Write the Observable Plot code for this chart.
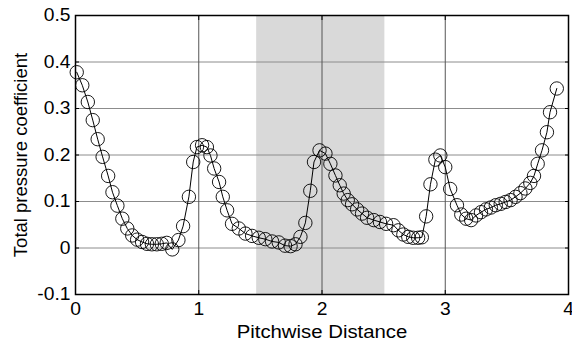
<!DOCTYPE html>
<html>
<head>
<meta charset="utf-8">
<script src="https://cdn.jsdelivr.net/npm/d3@7"></script>
<script src="https://cdn.jsdelivr.net/npm/@observablehq/plot@0.6"></script>
<style>
  html, body { margin: 0; padding: 0; background: #fff; }
  #chart svg { display: block; }
</style>
</head>
<body>
<div id="chart"></div>
<script>
// Pitchwise positions and total pressure coefficient values
const pitch = [0.01,0.055,0.10,0.14,0.18,0.22,0.265,0.30,0.34,0.38,0.42,0.46,0.50,0.54,0.58,0.62,0.66,0.70,0.74,0.785,0.835,0.873,0.92,0.955,0.985,1.027,1.066,1.095,1.125,1.165,1.195,1.23,1.27,1.325,1.379,1.433,1.487,1.54,1.595,1.649,1.70,1.745,1.785,1.825,1.865,1.905,1.935,1.98,2.028,2.068,2.109,2.144,2.176,2.209,2.244,2.285,2.325,2.366,2.42,2.47,2.52,2.58,2.62,2.66,2.70,2.74,2.78,2.81,2.845,2.88,2.92,2.96,3.0,3.04,3.095,3.13,3.17,3.21,3.25,3.29,3.33,3.37,3.41,3.45,3.49,3.53,3.57,3.61,3.65,3.69,3.72,3.75,3.785,3.825,3.85,3.905];
const cpt = [0.378,0.350,0.314,0.275,0.234,0.196,0.155,0.120,0.091,0.063,0.042,0.027,0.018,0.013,0.009,0.008,0.008,0.009,0.011,-0.003,0.017,0.047,0.110,0.185,0.217,0.221,0.217,0.199,0.171,0.142,0.110,0.081,0.052,0.042,0.031,0.026,0.022,0.019,0.014,0.012,0.005,0.004,0.008,0.024,0.054,0.123,0.185,0.210,0.203,0.181,0.156,0.135,0.117,0.103,0.094,0.083,0.074,0.065,0.060,0.056,0.052,0.049,0.038,0.029,0.024,0.022,0.022,0.023,0.068,0.137,0.190,0.199,0.174,0.127,0.092,0.072,0.063,0.060,0.070,0.077,0.083,0.087,0.092,0.095,0.099,0.103,0.110,0.118,0.128,0.140,0.155,0.181,0.210,0.249,0.292,0.343];

// Shaded band (pitchwise extent)
const bandStart = [1.47];
const bandEnd = [2.51];

// Tick values
const xTicks = [0, 1, 2, 3, 4];
const yTicks = [-0.1, 0, 0.1, 0.2, 0.3, 0.4, 0.5];
const xGrid = [1, 2, 3];

const points = pitch.map((p, i) => ({x: p, y: cpt[i]}));
const band = bandStart.map((s, i) => ({x1: s, x2: bandEnd[i]}));
const fmt = d => d === 0 ? "0" : d.toFixed(1);
const blank = () => "";

const chart = Plot.plot({
  width: 572,
  height: 340,
  marginLeft: 75,
  marginRight: 4,
  marginTop: 15,
  marginBottom: 46,
  style: {fontFamily: "'Liberation Sans', Arial, sans-serif", fontSize: "17.5px", color: "#000", background: "#fff"},
  x: {domain: [0, 4]},
  y: {domain: [-0.1, 0.5]},
  marks: [
    Plot.rect(band, {x1: "x1", x2: "x2", fill: "#d9d9d9"}),
    Plot.gridY(yTicks, {stroke: "#8c8c8c", strokeOpacity: 1, strokeWidth: 1}),
    Plot.gridX(xGrid, {stroke: "#555", strokeOpacity: 1, strokeWidth: 1}),
    Plot.line(points, {x: "x", y: "y", stroke: "#000", strokeWidth: 1}),
    Plot.dot(points, {x: "x", y: "y", r: 6.7, stroke: "#000", strokeWidth: 0.9, fill: "none"}),
    Plot.axisX(xTicks, {anchor: "top", tickSize: -4, tickFormat: blank, label: null}),
    Plot.axisY(yTicks, {anchor: "right", tickSize: -4, tickFormat: blank, label: null}),
    Plot.axisX(xTicks, {anchor: "bottom", tickSize: -4, tickPadding: 12, tickFormat: d => String(d), label: "Pitchwise Distance", labelAnchor: "center", labelArrow: "none", labelOffset: 43, fontSize: 17.5}),
    Plot.axisY(yTicks, {anchor: "left", tickSize: -4, tickPadding: 9, tickFormat: fmt, label: "Total pressure coefficient", labelAnchor: "center", labelArrow: "none", labelOffset: 62, fontSize: 17.5}),
    Plot.frame({stroke: "#000", strokeWidth: 1.5})
  ]
});
// the reference's text is slightly wider than Arial: stretch horizontal texts
chart.querySelectorAll('g[aria-label="x-axis tick label"] text, g[aria-label="y-axis tick label"] text, g[aria-label="x-axis label"] text').forEach(t => {
  const tr = t.getAttribute("transform") || "";
  t.setAttribute("transform", tr + " scale(1.1,1)");
});
chart.querySelectorAll('g[aria-label="x-axis label"] text, g[aria-label="y-axis label"] text').forEach(t => {
  t.style.fontSize = "18.5px";
});
document.getElementById("chart").appendChild(chart);
</script>
</body>
</html>
